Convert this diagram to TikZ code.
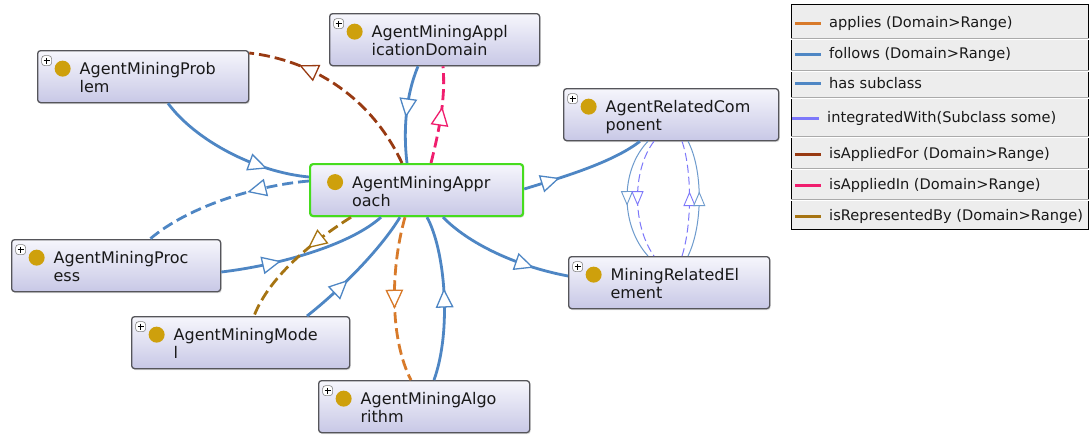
\documentclass[tikz,border=0pt]{standalone}
\usepackage{fontspec}
\setmainfont{DejaVu Sans}
\usetikzlibrary{decorations.markings,shadows,calc}
\definecolor{eblue}{RGB}{78,134,196}
\definecolor{tblue}{RGB}{110,155,205}
\definecolor{epurple}{RGB}{125,120,250}
\definecolor{ebrown}{RGB}{152,58,18}
\definecolor{epink}{RGB}{240,30,110}
\definecolor{eorange}{RGB}{216,122,42}
\definecolor{egold}{RGB}{166,116,18}
\definecolor{dotgold}{RGB}{206,160,12}
\definecolor{boxtop}{RGB}{246,246,252}
\definecolor{boxbot}{RGB}{200,200,230}
\definecolor{boxline}{RGB}{85,85,90}
\definecolor{selgreen}{RGB}{70,220,30}
\definecolor{legbg}{RGB}{237,237,237}
\definecolor{legsep}{RGB}{170,170,170}
\definecolor{txt}{RGB}{25,25,25}

\newcommand\cltxt[3]{\vbox to 52pt{\hsize=#1\relax\offinterlineskip
  \vskip 8pt
  \hbox to #1{\hskip 42pt\raisebox{0pt}[16pt][0pt]{#2}\hfil}
  \vskip 5pt
  \hbox to #1{\hskip 42pt\raisebox{0pt}[13pt][0pt]{#3}\hfil}
  \vfil}}
\newcommand\clsdot{\fill[dotgold] ([xshift=25pt,yshift=-18pt]path picture bounding box.north west) circle[radius=8pt];}
\newcommand\clsplus{%
  \draw[fill=white, draw=gray, line width=0.6pt] ([xshift=4pt,yshift=-5pt]path picture bounding box.north west) rectangle ++(10pt,-10pt);
  \draw[black, line width=1pt] ([xshift=6pt,yshift=-10pt]path picture bounding box.north west) -- ++(6pt,0pt)
    ([xshift=9pt,yshift=-7pt]path picture bounding box.north west) -- ++(0pt,-6pt);}

\tikzset{
  clsbase/.style={draw=boxline, line width=1.3pt, rounded corners=3pt, inner sep=0pt,
    anchor=north west, top color=boxtop, bottom color=boxbot,
    font=\fontsize{16}{18}\selectfont, text=txt,
    drop shadow={opacity=0.25, shadow xshift=1pt, shadow yshift=-1.5pt}},
  cls/.style={clsbase, path picture={\clsdot\clsplus}},
  clssel/.style={clsbase, draw=selgreen, line width=2.2pt, path picture={\clsdot}},
  fol/.style={draw=eblue, line width=2.8pt},
  dsh/.style={dash pattern=on 11pt off 5pt},
  thinline/.style={line width=1pt},
  amark/.style n args={3}{postaction={decorate, decoration={markings,
      mark=at position #1 with {\draw[draw=#2, fill=white, line width=1.3pt, solid, xscale=#3]
        (8pt,0pt) -- (-9pt,8pt) -- (-9pt,-8pt) -- cycle;}}}},
  smark/.style n args={3}{postaction={decorate, decoration={markings,
      mark=at position #1 with {\draw[draw=#2, fill=white, line width=0.9pt, solid, xscale=#3]
        (6pt,0pt) -- (-7pt,5.5pt) -- (-7pt,-5.5pt) -- cycle;}}}},
  legtxt/.style={anchor=west, inner sep=0pt, font=\fontsize{14.6}{16}\selectfont, text=txt},
}

\begin{document}
\begin{tikzpicture}[x=1pt, y=-1pt]
\useasboundingbox[fill=white] (0,0) rectangle (1091,434);

% class nodes
\node[cls] (prob) at (37,50) {\cltxt{211pt}{AgentMiningProb}{lem}};
\node[cls] (dom) at (329,13) {\cltxt{210pt}{AgentMiningAppl}{icationDomain}};
\node[clssel] (appr) at (309,163) {\cltxt{213pt}{AgentMiningAppr}{oach}};
\node[cls] (rc) at (563,88) {\cltxt{215pt}{AgentRelatedCom}{ponent}};
\node[cls] (proc) at (11,239) {\cltxt{209pt}{AgentMiningProc}{ess}};
\node[cls] (mre) at (568,256) {\cltxt{201pt}{MiningRelatedEl}{ement}};
\node[cls] (model) at (131,316) {\cltxt{218pt}{AgentMiningMode}{l}};
\node[cls] (algo) at (318,380) {\cltxt{211pt}{AgentMiningAlgo}{rithm}};

% connectors
\draw[fol, amark={0.68}{eblue}{1}] ([xshift=131pt]prob.south west) .. controls (195,140) and (255,172) .. ([yshift=-14pt]appr.north west);
\draw[fol, dsh, amark={0.31}{eblue}{1}] ([yshift=-18pt]appr.north west) .. controls (260,185) and (190,205) .. ([xshift=139pt]proc.north west);
\draw[fol, amark={0.44}{eblue}{1}] ([xshift=89pt]dom.south west) .. controls (406,95) and (403,130) .. ([xshift=98pt]appr.north west);
\draw[draw=epink, line width=2.8pt, dsh, amark={0.49}{epink}{1}] ([xshift=122pt]appr.north west) .. controls (438,135) and (446,100) .. ([xshift=114pt]dom.south west);
\draw[draw=ebrown, line width=2.8pt, dsh, amark={0.69}{ebrown}{1}] ([xshift=93pt]appr.north west) .. controls (370,95) and (310,60) .. ([yshift=-3pt]prob.north east);
\draw[fol, amark={0.22}{eblue}{1}] ([yshift=-26pt]appr.north east) .. controls (560,178) and (612,163) .. ([xshift=77pt]rc.south west);
\draw[fol, amark={0.68}{eblue}{1}] ([xshift=134pt]appr.south west) .. controls (468,243) and (515,266) .. ([yshift=-20pt]mre.north west);
\draw[fol, amark={0.3}{eblue}{1}] ([yshift=-33pt]proc.north east) .. controls (280,265) and (350,245) .. ([xshift=72pt]appr.south west);
\draw[fol, amark={0.33}{eblue}{1}] ([xshift=176pt]model.north west) .. controls (340,290) and (380,250) .. ([xshift=91pt]appr.south west);
\draw[draw=egold, line width=2.8pt, dsh, amark={0.31}{egold}{1}] ([xshift=42pt]appr.south west) .. controls (315,240) and (270,275) .. ([xshift=123pt]model.north west);
\draw[draw=eorange, line width=2.8pt, dsh, amark={0.5}{eorange}{1}] ([xshift=96pt]appr.south west) .. controls (390,270) and (390,340) .. ([xshift=93pt]algo.north west);
\draw[fol, amark={0.5}{eblue}{1}] ([xshift=116pt]algo.north west) .. controls (452,330) and (445,250) .. ([xshift=118pt]appr.south west);

% rc - mre
\draw[draw=tblue, thinline, smark={0.5}{tblue}{1}] ([xshift=85pt]rc.south west) .. controls (620,170) and (620,225) .. ([xshift=80pt]mre.north west);
\draw[draw=epurple, thinline, dash pattern=on 8pt off 4pt, smark={0.5}{epurple}{1}] ([xshift=91pt]rc.south west) .. controls (632,170) and (632,225) .. ([xshift=86pt]mre.north west);
\draw[draw=epurple, thinline, dash pattern=on 8pt off 4pt, smark={0.5}{epurple}{1}] ([xshift=114pt]mre.north west) .. controls (692,225) and (692,170) .. ([xshift=119pt]rc.south west);
\draw[draw=tblue, thinline, smark={0.5}{tblue}{1}] ([xshift=120pt]mre.north west) .. controls (703,225) and (703,170) .. ([xshift=125pt]rc.south west);

% legend
\node[draw=black, line width=1.2pt, fill=legbg, minimum width=297pt, minimum height=225pt, anchor=north west, inner sep=0pt] (leg) at (791,4) {};
\foreach \s in {34.5,66.5,93.5,132,164.5,195.5}{
  \draw[legsep, line width=1pt] ([yshift=-\s pt]leg.north west) -- ([yshift=-\s pt]leg.north east);
  \draw[white, line width=1pt] ([yshift=-\s pt-1pt]leg.north west) -- ([yshift=-\s pt-1pt]leg.north east);
}
\node[legtxt] (l1) at (829,23) {applies (Domain>Range)};
\node[legtxt] (l2) at (829,54) {follows (Domain>Range)};
\node[legtxt] (l3) at (829,83) {has subclass};
\node[legtxt] (l4) at (827,118) {integratedWith(Subclass some)};
\node[legtxt] (l5) at (829,154) {isAppliedFor (Domain>Range)};
\node[legtxt] (l6) at (829,185) {isAppliedIn (Domain>Range)};
\node[legtxt] (l7) at (829,216) {isRepresentedBy (Domain>Range)};
\draw[eorange, line width=3pt] ([xshift=-34pt]l1.west) -- ([xshift=-8pt]l1.west);
\draw[eblue, line width=3pt] ([xshift=-34pt]l2.west) -- ([xshift=-8pt]l2.west);
\draw[eblue, line width=3pt] ([xshift=-34pt]l3.west) -- ([xshift=-8pt]l3.west);
\draw[epurple, line width=3pt] ([xshift=-35pt]l4.west) -- ([xshift=-8pt]l4.west);
\draw[ebrown, line width=3pt] ([xshift=-34pt]l5.west) -- ([xshift=-8pt]l5.west);
\draw[epink, line width=3pt] ([xshift=-34pt]l6.west) -- ([xshift=-8pt]l6.west);
\draw[egold, line width=3pt] ([xshift=-34pt]l7.west) -- ([xshift=-8pt]l7.west);
\end{tikzpicture}
\end{document}
